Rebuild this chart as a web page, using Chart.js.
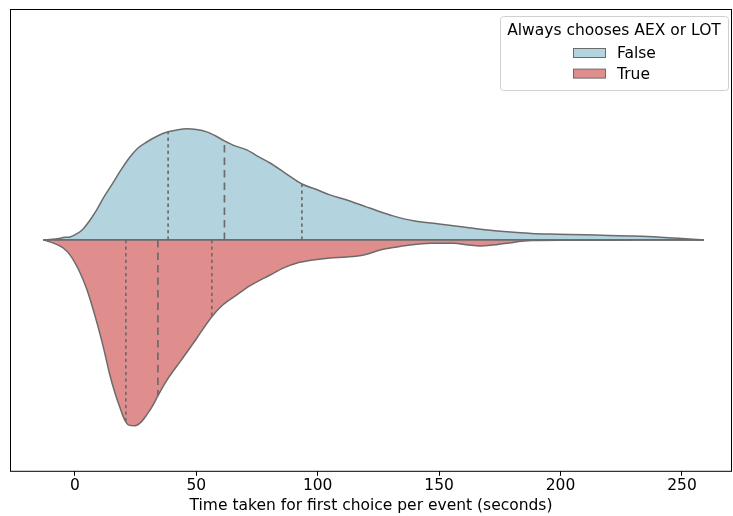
<!DOCTYPE html>
<html>
<head>
<meta charset="utf-8">
<script src="https://cdn.jsdelivr.net/npm/chart.js@4/dist/chart.umd.min.js"></script>
<style>
  html, body { margin: 0; padding: 0; background: #fff; overflow: hidden; }
  canvas { display: block; }
</style>
</head>
<body>
<canvas id="violin" width="733" height="516"></canvas>
<script>
// time grid (seconds) and half-violin widths for each group
const falseX = [-13, -8, -4, -2, 0, 3, 6, 9, 12, 15.7, 19, 22.7, 26, 29.6, 34, 38.4, 42, 46, 50, 54.3, 58, 61.6, 66, 70.8, 75, 80.4, 86, 93.5, 100, 105, 112, 120, 126, 131, 135.5, 140, 150, 160, 170, 178, 188, 198.7, 210, 220, 229, 240, 250, 259];
const falseW = [0, .004, .011, .013, .022, .043, .082, .130, .186, .247, .303, .359, .398, .424, .450, .468, .476, .481, .478, .468, .450, .429, .407, .390, .364, .333, .294, .242, .216, .195, .173, .143, .121, .104, .091, .082, .069, .056, .043, .035, .028, .025, .022, .019, .017, .013, .006, 0];

const trueX = [-13, -8, -4.8, -2, 2, 5, 9, 12, 14.4, 16.5, 18.6, 20.5, 22, 24.8, 27, 29.6, 32, 34.4, 38, 43.3, 50, 56.4, 61, 66.7, 72, 80.4, 86, 91.5, 98, 105, 112, 119, 126, 130, 138, 146.5, 156, 162, 167, 172, 178, 188, 200, 220, 240, 259];
const trueW = [0, .017, .035, .065, .139, .216, .355, .476, .584, .662, .727, .779, .801, .805, .792, .758, .719, .671, .606, .528, .429, .333, .281, .238, .199, .152, .121, .100, .087, .078, .074, .065, .043, .035, .022, .015, .015, .022, .026, .022, .014, .003, .001, .001, 0, 0];

// 25th, 50th, 75th percentiles
const falseQuart = [38.4, 61.6, 93.5];
const trueQuart = [21, 34.2, 56.4];

const groups = ['False', 'True'];
const xTicks = [0, 50, 100, 150, 200, 250];

const FONT = '"DejaVu Sans", sans-serif';
const FSIZE = 15.5;
const EDGE = '#6b6b6b';
const COLORS = ['#b3d4df', '#e08d8e'];

function widthAt(xs, ws, x) {
  for (let i = 1; i < xs.length; i++) {
    if (x <= xs[i]) {
      const t = (x - xs[i - 1]) / (xs[i] - xs[i - 1]);
      return ws[i - 1] + t * (ws[i] - ws[i - 1]);
    }
  }
  return 0;
}

function quartileLines(xs, ws, qs, sign) {
  return qs.map((q, i) => ({
    data: [{ x: q, y: 0 }, { x: q, y: sign * widthAt(xs, ws, q) }],
    borderColor: EDGE,
    borderWidth: 1.7,
    borderDash: i === 1 ? [7.5, 5] : [3.3, 3.3],
    pointRadius: 0,
    fill: false
  }));
}

const lo = Math.min(falseX[0], trueX[0]);
const hi = Math.max(falseX[falseX.length - 1], trueX[trueX.length - 1]);

const datasets = [
  ...quartileLines(falseX, falseW, falseQuart, 1),
  ...quartileLines(trueX, trueW, trueQuart, -1),
  {
    data: [{ x: lo, y: 0 }, { x: hi, y: 0 }],
    borderColor: EDGE, borderWidth: 1.6, pointRadius: 0, fill: false
  },
  {
    label: groups[0],
    data: falseX.map((x, i) => ({ x, y: falseW[i] })),
    backgroundColor: COLORS[0], borderColor: EDGE, borderWidth: 1.5,
    pointRadius: 0, fill: 'origin', cubicInterpolationMode: 'monotone'
  },
  {
    label: groups[1],
    data: trueX.map((x, i) => ({ x, y: -trueW[i] })),
    backgroundColor: COLORS[1], borderColor: EDGE, borderWidth: 1.5,
    pointRadius: 0, fill: 'origin', cubicInterpolationMode: 'monotone'
  }
];

// box round the plot area
const frame = {
  id: 'frame',
  afterDraw(chart) {
    const { ctx, chartArea: a } = chart;
    ctx.save();
    ctx.strokeStyle = '#000';
    ctx.lineWidth = 1;
    ctx.strokeRect(a.left + 0.5, a.top + 0.5, a.right - a.left - 1, a.bottom - a.top);
    ctx.restore();
  }
};

// legend box in the upper right corner
const legendBox = {
  id: 'legendBox',
  afterDraw(chart) {
    const { ctx, chartArea: a } = chart;
    const w = 228, h = 74;
    const x = a.right - 4 - w, y = a.top + 7;
    ctx.save();
    ctx.fillStyle = 'rgba(255,255,255,0.85)';
    ctx.strokeStyle = '#d0d0d0';
    ctx.lineWidth = 1;
    ctx.beginPath();
    ctx.roundRect(x + 0.5, y + 0.5, w, h, 3);
    ctx.fill();
    ctx.stroke();

    ctx.fillStyle = '#000';
    ctx.font = FSIZE + 'px ' + FONT;
    ctx.textAlign = 'center';
    ctx.textBaseline = 'middle';
    ctx.fillText('Always chooses AEX or LOT', x + w / 2, y + 14.5);

    ctx.textAlign = 'left';
    groups.forEach((g, i) => {
      const ry = y + 37 + i * 20.6;
      ctx.fillStyle = COLORS[i];
      ctx.fillRect(x + 73, ry - 4.5, 32, 9);
      ctx.strokeStyle = EDGE;
      ctx.strokeRect(x + 73.5, ry - 4.5, 32, 9);
      ctx.fillStyle = '#000';
      ctx.fillText(g, x + 117, ry + 1);
    });
    ctx.restore();
  }
};

new Chart(document.getElementById('violin'), {
  type: 'line',
  data: { datasets },
  options: {
    responsive: false,
    animation: false,
    maintainAspectRatio: false,
    layout: { padding: { left: 10, top: 9, right: 1, bottom: 0 } },
    plugins: { legend: { display: false }, tooltip: { enabled: false } },
    scales: {
      x: {
        type: 'linear',
        min: -26.7,
        max: 270.6,
        afterBuildTicks: s => { s.ticks = xTicks.map(v => ({ value: v })); },
        grid: { drawOnChartArea: false, tickLength: 5, color: '#000', tickWidth: 1 },
        border: { display: false },
        ticks: { color: '#000', font: { family: FONT, size: FSIZE }, padding: 1, maxRotation: 0 },
        title: {
          display: true,
          text: 'Time taken for first choice per event (seconds)',
          color: '#000',
          font: { family: FONT, size: FSIZE },
          padding: { top: 0, bottom: 1 }
        }
      },
      y: { display: false, min: -1, max: 1 }
    }
  },
  plugins: [frame, legendBox]
});
</script>
</body>
</html>
